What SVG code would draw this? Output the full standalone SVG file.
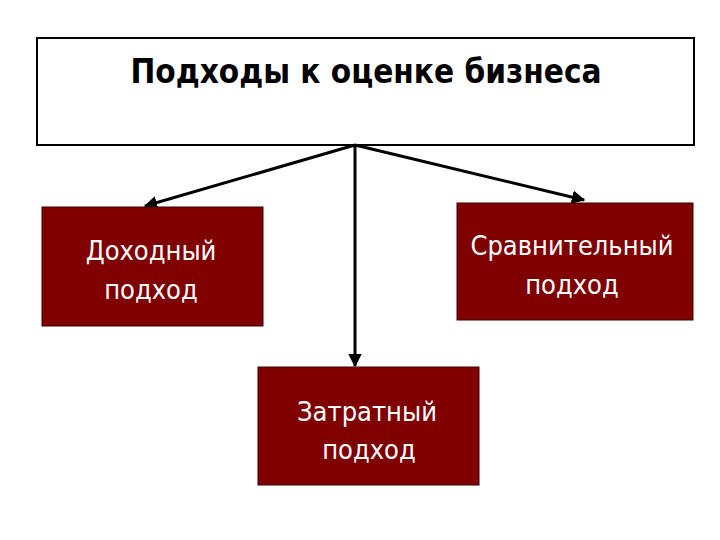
<svg xmlns="http://www.w3.org/2000/svg" width="720" height="540" viewBox="0 0 720 540">
<style>
.node{fill:#800000;stroke:#3a0000;stroke-width:1}
.lbl{fill:#ffffff;font-family:"DejaVu Sans Condensed","DejaVu Sans","Liberation Sans",sans-serif;font-stretch:condensed;font-size:27px;text-anchor:middle}
.title{fill:#000;font-family:"DejaVu Sans Condensed","DejaVu Sans","Liberation Sans",sans-serif;font-stretch:condensed;font-size:33px;font-weight:bold;text-anchor:middle}
.conn{stroke:#000;stroke-width:3;fill:none}
</style>
<defs>
<marker id="ah" viewBox="0 0 10 10" refX="9" refY="5" markerWidth="4.5" markerHeight="4.5" orient="auto" markerUnits="strokeWidth">
<path d="M0,0 L10,5 L0,10 z" fill="#000"/>
</marker>
</defs>
<rect width="720" height="540" fill="#fff"/>
<g id="title">
<rect x="37" y="38" width="657" height="107" fill="#fff" stroke="#000" stroke-width="2"/>
<text class="title" x="366" y="83">Подходы к оценке бизнеса</text>
</g>
<g id="connectors">
<line class="conn" x1="355" y1="145" x2="145" y2="206" marker-end="url(#ah)"/>
<line class="conn" x1="355" y1="145" x2="584" y2="200" marker-end="url(#ah)"/>
<line class="conn" x1="355" y1="145" x2="355" y2="366" marker-end="url(#ah)"/>
</g>
<g id="income">
<rect class="node" x="42" y="207" width="221" height="119"/>
<text class="lbl" x="151" y="260">Доходный</text>
<text class="lbl" x="151" y="299">подход</text>
</g>
<g id="comparative">
<rect class="node" x="457" y="203" width="236" height="117"/>
<text class="lbl" x="572" y="255">Сравнительный</text>
<text class="lbl" x="572" y="294">подход</text>
</g>
<g id="cost">
<rect class="node" x="258" y="367" width="221" height="118"/>
<text class="lbl" x="367" y="421">Затратный</text>
<text class="lbl" x="369" y="459">подход</text>
</g>
</svg>
